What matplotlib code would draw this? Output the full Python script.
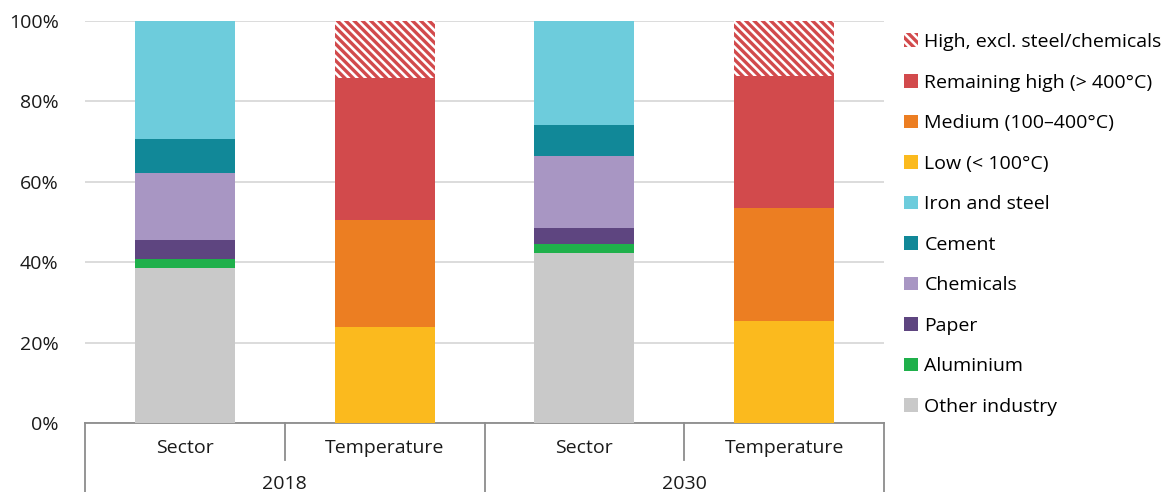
import matplotlib
matplotlib.use('Agg')
import matplotlib.pyplot as plt
import numpy as np

# categories on the x axis (two levels)
groups = ['Sector', 'Temperature', 'Sector', 'Temperature']
years = ['2018', '2030']

# sector split (share of industrial heat, %)
sector_names = ['Other industry', 'Aluminium', 'Paper', 'Chemicals', 'Cement', 'Iron and steel']
sector_2018 = [38.5, 2.4, 4.6, 16.7, 8.5, 29.3]
sector_2030 = [42.3, 2.2, 4.1, 17.9, 7.7, 25.8]

# temperature split (%)
temp_names = ['Low (< 100°C)', 'Medium (100–400°C)', 'Remaining high (> 400°C)',
              'High, excl. steel/chemicals']
temp_2018 = [24.0, 26.5, 35.3, 14.2]
temp_2030 = [25.4, 28.0, 32.9, 13.7]

sector_colors = ['#C9C9C9', '#1FB04B', '#5E4580', '#A896C3', '#118898', '#6DCCDC']
temp_colors = ['#FBBA1E', '#EC7E22', '#D24A4C', '#D24A4C']

plt.rcParams['font.family'] = ['Open Sans', 'DejaVu Sans']
plt.rcParams['hatch.linewidth'] = 2.4

fig = plt.figure(figsize=(11.66, 4.92), dpi=100)
ax = fig.add_axes([85/1166, 1 - 423.3/492, 799/1166, 402.6/492])

x = np.arange(len(groups))
w = 0.5
handles = {}

# sector bars at positions 0 and 2
bottom = np.zeros(2)
for name, col, v18, v30 in zip(sector_names, sector_colors, sector_2018, sector_2030):
    vals = np.array([v18, v30])
    b = ax.bar(x[[0, 2]], vals, w, bottom=bottom, color=col, linewidth=0, label=name, zorder=3)
    handles[name] = b
    bottom += vals

# temperature bars at positions 1 and 3
bottom = np.zeros(2)
for i, (name, col, v18, v30) in enumerate(zip(temp_names, temp_colors, temp_2018, temp_2030)):
    vals = np.array([v18, v30])
    if i == 3:
        b = ax.bar(x[[1, 3]], vals, w, bottom=bottom, facecolor='white', edgecolor=col,
                   hatch='\\\\\\\\', linewidth=0, label=name, zorder=3)
    else:
        b = ax.bar(x[[1, 3]], vals, w, bottom=bottom, color=col, linewidth=0, label=name, zorder=3)
    handles[name] = b
    bottom += vals

ax.set_xlim(-0.5, 3.5)
ax.set_ylim(0, 100)
ax.set_yticks(np.arange(0, 101, 20))
ax.set_yticklabels([f'{t}%' for t in range(0, 101, 20)])
ax.tick_params(axis='y', length=0, pad=19, labelsize=14, colors='#1a1a1a')
ax.set_xticks([])
ax.grid(axis='y', color='#D9D9D9', lw=1.3, zorder=0)
for s in ['top', 'right', 'left']:
    ax.spines[s].set_visible(False)
ax.spines['bottom'].set_color('#8C8C8C')
ax.spines['bottom'].set_linewidth(1.3)

# two-level category axis
tr = ax.get_xaxis_transform()
for xs in [-0.5, 1.5, 3.5]:
    ax.plot([xs, xs], [0, -0.175], transform=tr, color='#8C8C8C', lw=1.3, clip_on=False)
for xs in [0.5, 2.5]:
    ax.plot([xs, xs], [0, -0.092], transform=tr, color='#8C8C8C', lw=1.3, clip_on=False)
for xi, g in zip(x, groups):
    ax.text(xi, -0.061, g, transform=tr, ha='center', va='center', fontsize=14, color='#1a1a1a')
for j, yr in enumerate(years):
    ax.text(2 * j + 0.5, -0.152, yr, transform=tr, ha='center', va='center', fontsize=14,
            color='#1a1a1a')

order = temp_names[::-1] + sector_names[::-1]
fig.legend([handles[n] for n in order], order, loc='upper left',
           bbox_to_anchor=(904/1166, 1 - 33/492), frameon=False, fontsize=14,
           handlelength=0.7, handleheight=0.7, handletextpad=0.35,
           labelspacing=1.16, borderpad=0, borderaxespad=0)

fig.savefig('out.png', dpi=100)
